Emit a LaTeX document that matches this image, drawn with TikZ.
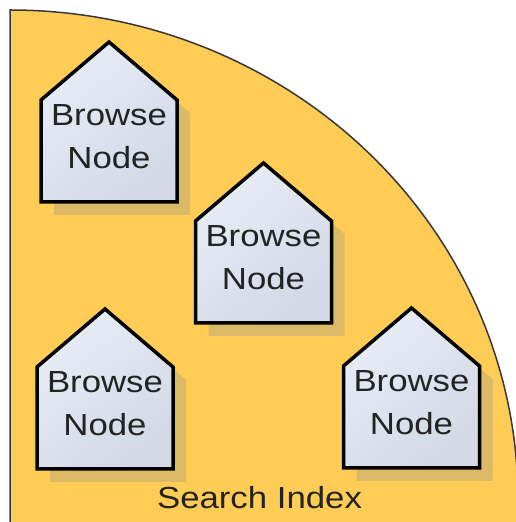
\documentclass[tikz,border=0pt]{standalone}
\usepackage{fontspec}
\newfontfamily\lblfont{Liberation Sans}[FakeStretch=1.14]
\definecolor{indexfill}{RGB}{255,204,85}
\definecolor{indexline}{RGB}{55,55,55}
\definecolor{houselight}{RGB}{232,236,245}
\definecolor{housedark}{RGB}{210,216,230}
\definecolor{shadowc}{RGB}{219,185,102}
\definecolor{textc}{RGB}{35,35,35}
\tikzset{
  indexshape/.style={fill=indexfill, draw=indexline, line width=1.5pt},
  housestyle/.style={draw=black, line width=3.5pt, line join=miter,
    top color=houselight, bottom color=housedark, shading angle=40},
  houseshadow/.style={fill=shadowc},
  lbl/.style={font=\lblfont\fontsize{30.5}{36}\selectfont, text=textc,
    inner sep=0pt, anchor=base},
}
\newcommand\housebox[3]{%
  \fill[houseshadow, shift={(#2+13,#3-13)}] (-68,0) -- (68,0) -- (68,102) -- (0,160) -- (-68,102) -- cycle;
  \draw[housestyle, shift={(#2,#3)}] (-68,0) -- (68,0) -- (68,102) -- (0,160) -- (-68,102) -- cycle;
  \node[lbl] (#1top) at (#2,#3+76) {Browse};
  \node[lbl] (#1bot) at (#2,#3+33) {Node};
}
\begin{document}
\begin{tikzpicture}[x=1pt,y=1pt]
\useasboundingbox (0,0) rectangle (516,522);
\begin{scope}
\clip (0,0) rectangle (516,522);
\draw[indexshape] (10,-30) -- (10,512) arc[start angle=90, end angle=-10, x radius=508pt, y radius=490pt] -- cycle;
\end{scope}
\housebox{h1}{109}{320}
\housebox{h2}{263.5}{199}
\housebox{h3}{105}{53}
\housebox{h4}{411.5}{54}
\node[lbl] (index) at (259.5,13) {Search Index};
\end{tikzpicture}
\end{document}
